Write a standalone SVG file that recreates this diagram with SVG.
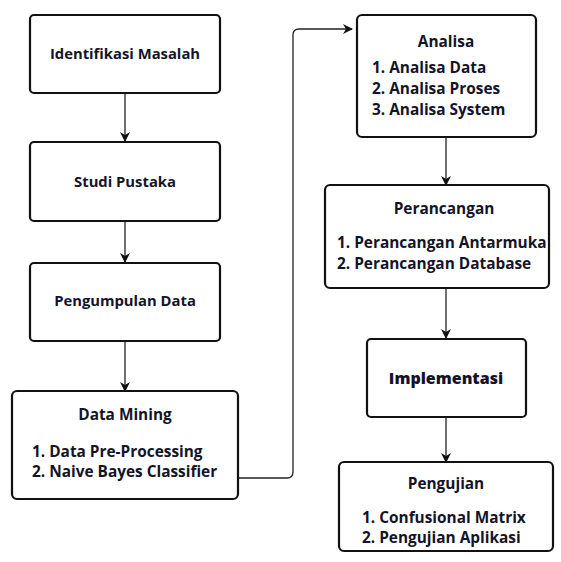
<svg xmlns="http://www.w3.org/2000/svg" width="561" height="562" viewBox="0 0 561 562">
<defs>
<marker id="ah" markerWidth="10" markerHeight="10" refX="9" refY="5" orient="auto" markerUnits="userSpaceOnUse">
<path d="M0,0 L10,5 L0,10 L3,5 Z" fill="#111"/>
</marker>
<style>
.box{fill:#fff;stroke:#111;stroke-width:2.2}
.t{font-family:"Open Sans","Noto Sans","DejaVu Sans",sans-serif;font-size:15.4px;font-weight:700;fill:#141428}
.s{font-size:14.8px}
.c{text-anchor:middle}
.b{font-weight:800;font-size:16px}
.e{fill:none;stroke:#222;stroke-width:1.3;marker-end:url(#ah)}
</style>
</defs>
<rect width="561" height="562" fill="#fff"/>
<g id="connectors">
<path class="e" d="M125,93 V141"/>
<path class="e" d="M125,221 V262"/>
<path class="e" d="M125,341 V391"/>
<path class="e" d="M238,478 H287 Q293,478 293,472 V35 Q293,29 299,29 H352"/>
<path class="e" d="M446,137 V185"/>
<path class="e" d="M446,288 V338"/>
<path class="e" d="M446,417 V462"/>
</g>
<g id="identifikasi">
<rect class="box" x="30" y="15" width="190" height="78" rx="4"/>
<text class="t s c" x="125" y="59">Identifikasi Masalah</text>
</g>
<g id="studi">
<rect class="box" x="30" y="142" width="190" height="79" rx="4"/>
<text class="t s c" x="125" y="187">Studi Pustaka</text>
</g>
<g id="pengumpulan">
<rect class="box" x="30" y="263" width="190" height="78" rx="4"/>
<text class="t s c" x="125" y="306">Pengumpulan Data</text>
</g>
<g id="datamining">
<rect class="box" x="12" y="391" width="226" height="108" rx="5"/>
<text class="t c" x="125" y="420">Data Mining</text>
<text class="t" x="32" y="457">1. Data Pre-Processing</text>
<text class="t" x="32" y="477">2. Naive Bayes Classifier</text>
</g>
<g id="analisa">
<rect class="box" x="357" y="15" width="179" height="122" rx="5"/>
<text class="t c" x="446" y="47">Analisa</text>
<text class="t" x="372" y="73">1. Analisa Data</text>
<text class="t" x="372" y="94">2. Analisa Proses</text>
<text class="t" x="372" y="115">3. Analisa System</text>
</g>
<g id="perancangan">
<rect class="box" x="325" y="185" width="224" height="103" rx="5"/>
<text class="t c" x="444" y="214">Perancangan</text>
<text class="t" x="337" y="248">1. Perancangan Antarmuka</text>
<text class="t" x="337" y="269">2. Perancangan Database</text>
</g>
<g id="implementasi">
<rect class="box" x="367" y="339" width="159" height="78" rx="4"/>
<text class="t c b" x="446" y="384">Implementasi</text>
</g>
<g id="pengujian">
<rect class="box" x="339" y="462" width="214" height="89" rx="5"/>
<text class="t c" x="446" y="489">Pengujian</text>
<text class="t" x="362" y="523">1. Confusional Matrix</text>
<text class="t" x="362" y="543">2. Pengujian Aplikasi</text>
</g>
</svg>
